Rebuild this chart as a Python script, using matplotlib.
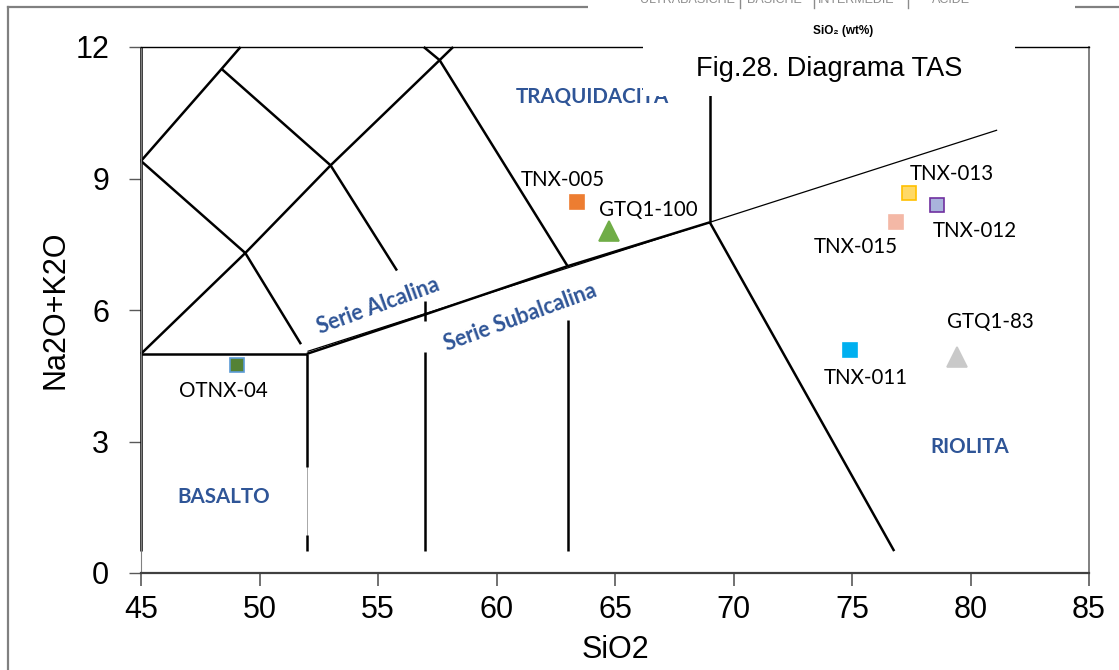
import matplotlib
matplotlib.use("Agg")
import matplotlib.pyplot as plt
from matplotlib.patches import Rectangle
from matplotlib.lines import Line2D

# ---- samples (SiO2 wt%, Na2O+K2O wt%) ----
sample_names = ["TNX-005", "GTQ1-100", "TNX-013", "TNX-012",
                "TNX-015", "TNX-011", "GTQ1-83", "OTNX-04"]
sio2 = [63.4, 64.75, 77.4, 78.6, 76.85, 74.9, 79.45, 49.05]
alkali = [8.47, 7.8, 8.67, 8.4, 8.0, 5.09, 4.93, 4.75]
markers = ["s", "^", "s", "s", "s", "s", "^", "s"]
face_colors = ["#ED7D31", "#70AD47", "#FFD966", "#A9B4DC",
               "#F4B8A6", "#00B0F0", "#C9C9C9", "#548235"]
edge_colors = ["#ED7D31", "#70AD47", "#FFC000", "#7030A0",
               "#F4B8A6", "#00B0F0", "#C9C9C9", "#5B9BD5"]
# label offsets from each marker, in points
label_offsets = [(-10, 16), (28, 15), (31, 14), (27, -19),
                 (-29, -18), (12, -20), (24, 25), (-10, -19)]

# ---- TAS field boundaries (Le Bas et al.), data coordinates ----
tas_boundaries = [
    [(45, 0.5), (45, 12)],
    [(45, 5), (52, 5)],
    [(52, 2.42), (52, 5)],
    [(52, 0.5), (52, 0.87)],
    [(57, 0.5), (57, 5.05)],
    [(57, 5.75), (57, 6.2)],
    [(63, 0.5), (63, 5.78)],
    [(52, 5), (57, 5.9), (63, 7), (69, 8)],
    [(69, 8), (76.78, 0.5)],
    [(69, 8), (69, 10.9)],
    [(45, 5), (49.4, 7.3), (53, 9.3), (57.6, 11.7), (58.17, 12)],
    [(49.4, 7.3), (51.75, 5.22)],
    [(45, 9.4), (49.4, 7.3)],
    [(45, 9.4), (48.4, 11.5), (49.2, 12)],
    [(48.4, 11.5), (53, 9.3)],
    [(53, 9.3), (55.8, 6.9)],
    [(57.6, 11.7), (63, 7)],
    [(56.93, 12), (57.6, 11.7)],
]
# alkaline / subalkaline divide
series_divide = [(52.05, 5.06), (81.1, 10.1)]
# faint trace inside the basalt field gap
basalt_gap = [(52, 0.87), (52, 2.42)]

# field names and their positions (SiO2, Na2O+K2O, rotation)
field_names = ["TRAQUIDACITA", "BASALTO", "RIOLITA",
               "Serie Alcalina", "Serie Subalcalina"]
field_x = [64.03, 48.5, 79.95, 55.0, 61.0]
field_y = [10.87, 1.74, 2.87, 6.1, 5.82]
field_rot = [0, 0, 0, 20, 20]

x_ticks = [45, 50, 55, 60, 65, 70, 75, 80, 85]
y_ticks = [0, 3, 6, 9, 12]

W, H = 1119, 670
fig = plt.figure(figsize=(W / 100, H / 100), dpi=100)
fig.patch.set_facecolor("white")
ax = fig.add_axes([141 / W, 1 - 573 / H, 948 / W, 526 / H])
ax.set_xlim(45, 85)
ax.set_ylim(0, 12)

arial = ["Liberation Sans", "DejaVu Sans"]
calibri = ["Lato", "DejaVu Sans"]
blue = "#2F5597"

for seg in tas_boundaries:
    xs, ys = zip(*seg)
    ax.plot(xs, ys, color="black", lw=1.8, solid_capstyle="butt",
            zorder=2, clip_on=False)
xs, ys = zip(*series_divide)
ax.plot(xs, ys, color="black", lw=0.9, zorder=2, clip_on=False)
xs, ys = zip(*basalt_gap)
ax.plot(xs, ys, color="#9a9a9a", lw=0.6, zorder=1)

for name, x, y, m, fc, ec, off in zip(sample_names, sio2, alkali, markers,
                                      face_colors, edge_colors, label_offsets):
    ms = 14.4 if m == "^" else 10.3
    ax.plot([x], [y], marker=m, ms=ms, mfc=fc, mec=ec, mew=1.2,
            ls="none", zorder=4)
    ax.annotate(name, (x, y), xytext=off, textcoords="offset points",
                ha="center", va="center", fontsize=14.8, family=calibri,
                color="black", zorder=5)

for name, fx, fy, rot in zip(field_names, field_x, field_y, field_rot):
    size = 15.5 if rot else 14.8
    ax.text(fx, fy, name, ha="center", va="center", rotation=rot,
            rotation_mode="anchor", fontsize=size, fontweight="bold",
            family=calibri, color=blue, zorder=3)

# axes styling
ax.set_xticks(x_ticks)
ax.set_yticks(y_ticks)
ax.tick_params(axis="x", direction="out", length=9, width=1.2,
               color="#595959", pad=6.5, labelsize=22)
ax.tick_params(axis="y", direction="out", length=9, width=1.0,
               color="#595959", pad=14, labelsize=22)
for lab in ax.get_xticklabels() + ax.get_yticklabels():
    lab.set_family(arial)
ax.spines["bottom"].set_color("#404040")
ax.spines["bottom"].set_linewidth(1.6)
ax.spines["left"].set_color("#808080")
ax.spines["left"].set_linewidth(0.8)
ax.spines["right"].set_color("#808080")
ax.spines["right"].set_linewidth(1.4)
ax.spines["top"].set_color("black")
ax.spines["top"].set_linewidth(1.0)

ax.set_xlabel("SiO2", fontsize=22, family=arial)
ax.xaxis.set_label_coords(0.5, -0.118)
ax.set_ylabel("Na2O+K2O", fontsize=22, family=arial, va="center")
ax.yaxis.set_label_coords(-0.0907, 0.5)

# outer frame
fig.add_artist(Line2D([8 / W, 588 / W], [1 - 7 / H, 1 - 7 / H],
                      color="#808080", lw=1.6))
fig.add_artist(Line2D([1075 / W, 1.0], [1 - 7 / H, 1 - 7 / H],
                      color="#808080", lw=1.6))
fig.add_artist(Line2D([8 / W, 8 / W], [1 - 7 / H, 0], color="#808080", lw=1.6))

# title panel
fig.add_artist(Rectangle((588 / W, 1 - 20 / H), (1075 - 588) / W, 20 / H,
                         transform=fig.transFigure, facecolor="white",
                         edgecolor="none", zorder=5))
fig.add_artist(Rectangle((643 / W, 1 - 96 / H), (1015 - 643) / W, 96 / H,
                         transform=fig.transFigure, facecolor="white",
                         edgecolor="none", zorder=5))

header_words = ["ULTRABASICHE", "BASICHE", "INTERMEDIE", "ACIDE"]
header_x = [687, 774, 856, 951]
header_seps = [740, 814, 908]
for word, hx in zip(header_words, header_x):
    fig.text(hx / W, 1 - 3 / H, word, ha="center", va="baseline",
             fontsize=9, family=arial, color="#8c8c8c", zorder=6)
for sx in header_seps:
    fig.add_artist(Line2D([sx / W, sx / W], [1.0, 1 - 8 / H],
                          color="#8c8c8c", lw=1.0, zorder=6))
fig.text(843 / W, 1 - 31 / H, "SiO\u2082 (wt%)", ha="center", va="center",
         fontsize=8.5, fontweight="bold", family=arial, color="black", zorder=6)
fig.text(829 / W, 1 - 76 / H, "Fig.28. Diagrama TAS", ha="center",
         va="baseline", fontsize=19.5, family=arial, color="black", zorder=6)

fig.savefig("out.png", dpi=100)
